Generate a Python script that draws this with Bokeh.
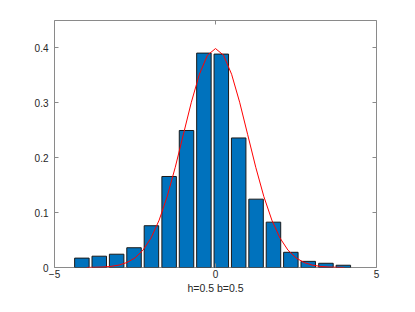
from bokeh.plotting import figure
from bokeh.models import Range1d, LinearAxis, FixedTicker
from bokeh.embed import file_html
from bokeh.resources import INLINE

# Histogram bins (centers) and normalized heights
bin_centers = [-4.15, -3.61, -3.07, -2.53, -1.99, -1.44, -0.90, -0.36,
               0.18, 0.72, 1.26, 1.80, 2.34, 2.88, 3.43, 3.97]
bin_heights = [0.0171, 0.0206, 0.0242, 0.0360, 0.0761, 0.1658, 0.2496, 0.3906,
               0.3888, 0.2360, 0.1245, 0.0826, 0.0277, 0.0112, 0.0077, 0.0041]

# Red density curve
curve_x = [-4.0, -3.75, -3.5, -3.25, -3.0, -2.75, -2.5, -2.25, -2.0, -1.75, -1.5,
           -1.25, -1.0, -0.75, -0.5, -0.25, 0.0, 0.25, 0.5, 0.75, 1.0, 1.25,
           1.5, 1.75, 2.0, 2.25, 2.5, 2.75, 3.0, 3.25, 3.5, 3.75, 4.0]
curve_y = [0.0001, 0.0004, 0.0009, 0.0020, 0.0044, 0.0091, 0.0175, 0.0317, 0.0540,
           0.0863, 0.1295, 0.1826, 0.2420, 0.3011, 0.3521, 0.3867, 0.3989, 0.3867,
           0.3521, 0.3011, 0.2420, 0.1826, 0.1295, 0.0863, 0.0540, 0.0317, 0.0175,
           0.0091, 0.0044, 0.0020, 0.0009, 0.0004, 0.0001]

x_ticks = [-5, 0, 5]
y_ticks = [0, 0.1, 0.2, 0.3, 0.4]
y_tick_labels = ["0", "0.1", "0.2", "0.3", "0.4"]
x_label = "h=0.5 b=0.5"

FONT = "Liberation Sans"
TXT = "#262626"
AX = "#8a8a8a"

p = figure(width=399, height=296, output_backend="svg", toolbar_location=None,
           x_range=Range1d(-5, 5), y_range=Range1d(0, 0.45),
           min_border_left=54, min_border_right=23, min_border_top=20,
           min_border_bottom=0, x_axis_location=None, y_axis_location=None)
p.grid.visible = False
p.outline_line_color = AX
p.outline_line_width = 1
p.background_fill_color = "white"
p.border_fill_color = "white"

def style(ax, labels=True):
    ax.axis_line_color = None
    ax.major_tick_line_color = AX
    ax.major_tick_in = 4
    ax.major_tick_out = 0
    ax.minor_tick_line_color = None
    ax.major_label_text_font = FONT
    ax.major_label_text_font_size = "10px"
    ax.major_label_text_color = TXT
    if not labels:
        ax.major_label_text_alpha = 0
        ax.major_label_text_font_size = "1px"
        ax.major_label_standoff = 0

xb = LinearAxis(ticker=FixedTicker(ticks=x_ticks))
style(xb)
xb.major_label_standoff = 2
xb.axis_label = x_label
xb.axis_label_standoff = 1
xb.axis_label_text_font = FONT
xb.axis_label_text_font_size = "10.5px"
xb.axis_label_text_font_style = "normal"
xb.axis_label_text_color = TXT
xt = LinearAxis(ticker=FixedTicker(ticks=x_ticks))
style(xt, labels=False)
yl = LinearAxis(ticker=FixedTicker(ticks=y_ticks))
style(yl)
yl.major_label_standoff = 6
yl.major_label_overrides = {t: s for t, s in zip(y_ticks, y_tick_labels)}
yr = LinearAxis(ticker=FixedTicker(ticks=y_ticks))
style(yr, labels=False)
p.add_layout(xb, "below")
p.add_layout(xt, "above")
p.add_layout(yl, "left")
p.add_layout(yr, "right")

p.vbar(x=bin_centers, top=bin_heights, bottom=0, width=0.45,
       fill_color="#0072BD", line_color="#1a1a1a", line_width=1)
p.line(curve_x, curve_y, line_color="#FF0000", line_width=1)

open("out.html", "w").write(file_html(p, INLINE))
